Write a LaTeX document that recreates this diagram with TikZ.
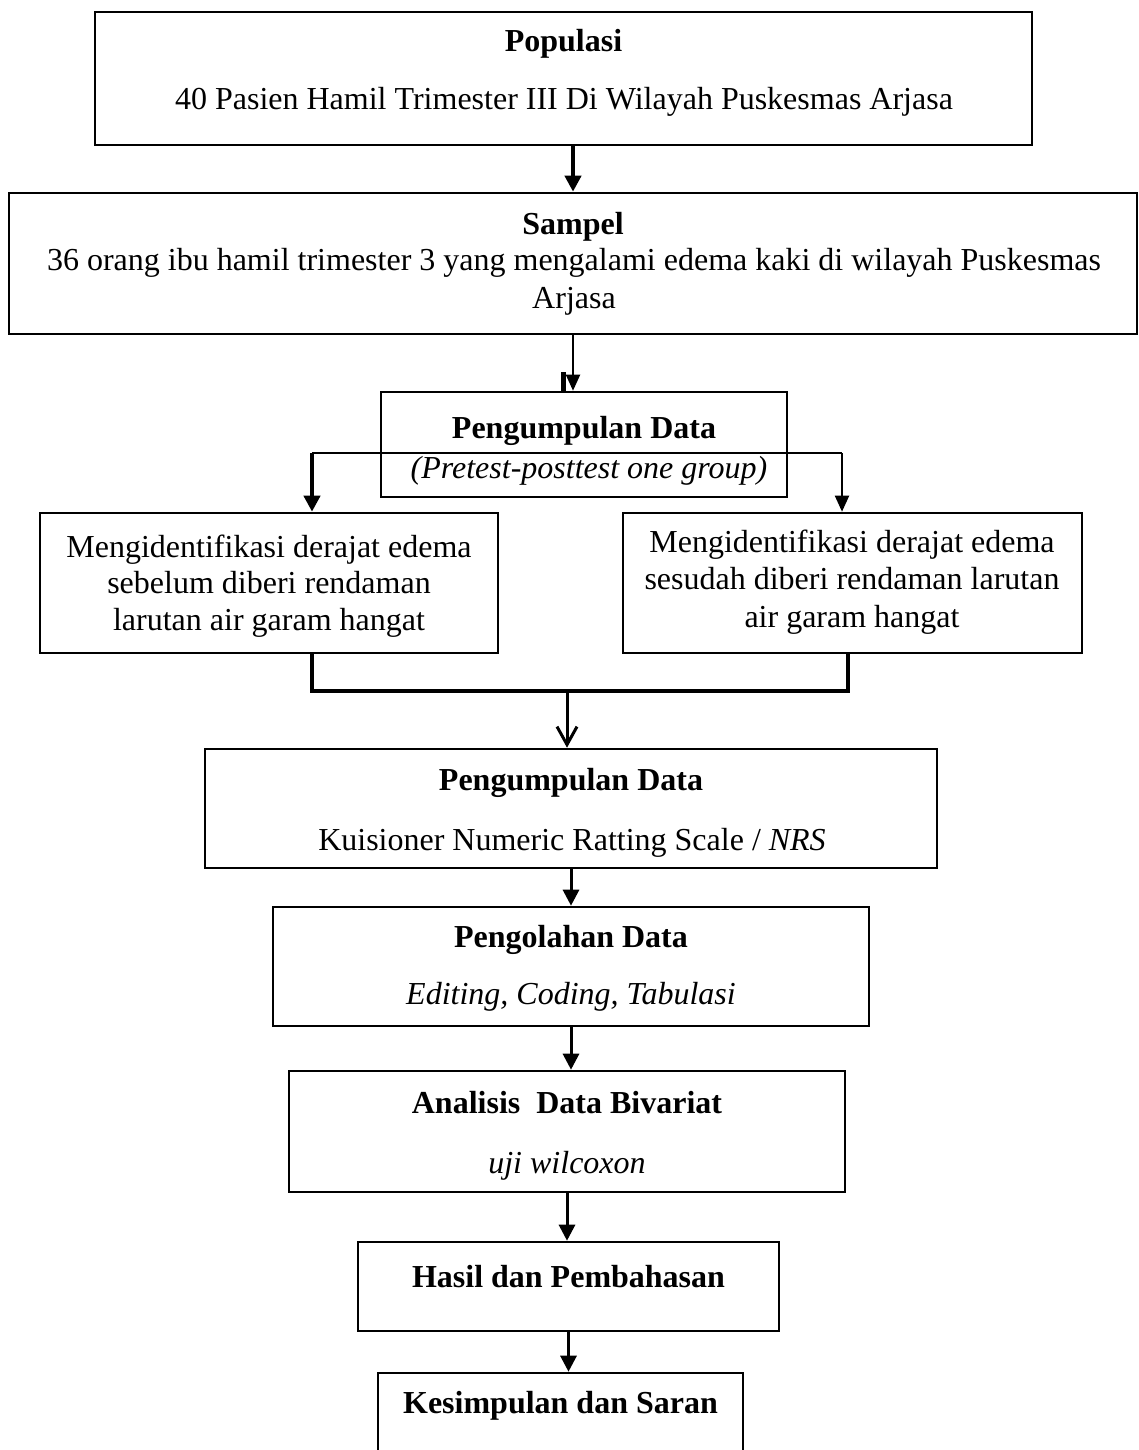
\documentclass[tikz,border=0pt]{standalone}
\usepackage{fontspec}
\setmainfont{Liberation Serif}
\usetikzlibrary{arrows.meta}

\tikzset{
  kotak/.style={draw, line width=1.3pt, rectangle, inner sep=0pt},
  teks/.style={anchor=base, inner sep=0pt, font=\fontsize{16}{19}\selectfont},
  panah/.style={line width=1.5pt, -{Triangle[length=8pt,width=8pt]}},
  panahtipis/.style={line width=1pt, -{Triangle[length=8pt,width=7pt]}},
  panahtebal/.style={line width=2pt, -{Triangle[length=8pt,width=8pt]}},
}

\begin{document}
\begin{tikzpicture}[x=0.5pt,y=-0.5pt]
\useasboundingbox (0,0) rectangle (1139,1450);
\clip (0,0) rectangle (1139,1450);

\node[kotak, minimum width=468.5pt, minimum height=66.5pt] (pop) at (563.5,78.5) {};
\node[teks] (popJudul) at (563.5,52) {\textbf{Populasi}};
\node[teks] (popIsi) at (564,110) {40 Pasien Hamil Trimester III Di Wilayah Puskesmas Arjasa};

\node[kotak, minimum width=564pt, minimum height=70.5pt] (sampel) at (573,263.5) {};
\node[teks] (sampelJudul) at (573,234) {\textbf{Sampel}};
\node[teks] (sampelIsi1) at (574,270) {36 orang ibu hamil trimester 3 yang mengalami edema kaki di wilayah Puskesmas};
\node[teks] (sampelIsi2) at (574,308) {Arjasa};

\node[kotak, minimum width=203pt, minimum height=52.5pt] (kumpul) at (584,444.5) {};
\node[teks] (kumpulJudul) at (584,438) {\textbf{Pengumpulan Data}};
\node[teks] (kumpulIsi) at (589,478) {\textit{(Pretest-posttest one group)}};

\node[kotak, minimum width=229pt, minimum height=70pt] (sebelum) at (269,583) {};
\node[teks] (sebelum1) at (269,557) {Mengidentifikasi derajat edema};
\node[teks] (sebelum2) at (269,593) {sebelum diberi rendaman};
\node[teks] (sebelum3) at (269,630) {larutan air garam hangat};

\node[kotak, minimum width=229.5pt, minimum height=70pt] (sesudah) at (852.5,583) {};
\node[teks] (sesudah1) at (852,552) {Mengidentifikasi derajat edema};
\node[teks] (sesudah2) at (852,589) {sesudah diberi rendaman larutan};
\node[teks] (sesudah3) at (852,627) {air garam hangat};

\node[kotak, minimum width=366pt, minimum height=59.5pt] (kuesioner) at (571,808.5) {};
\node[teks] (kuesionerJudul) at (571,790) {\textbf{Pengumpulan Data}};
\node[teks] (kuesionerIsi) at (572,850) {Kuisioner Numeric Ratting Scale / \textit{NRS}};

\node[kotak, minimum width=298pt, minimum height=59.5pt] (olah) at (571,966.5) {};
\node[teks] (olahJudul) at (571,947) {\textbf{Pengolahan Data}};
\node[teks] (olahIsi) at (571,1004) {\textit{Editing, Coding, Tabulasi}};

\node[kotak, minimum width=278pt, minimum height=60.5pt] (analisis) at (567,1131.5) {};
\node[teks] (analisisJudul) at (567,1113) {\textbf{Analisis\ \ Data Bivariat}};
\node[teks] (analisisIsi) at (567,1173) {\textit{uji wilcoxon}};

\node[kotak, minimum width=210.5pt, minimum height=44.5pt] (hasil) at (568.5,1286.5) {};
\node[teks] (hasilJudul) at (568.5,1287) {\textbf{Hasil dan Pembahasan}};

\node[kotak, minimum width=182.5pt, minimum height=48.5pt] (simpul) at (560.5,1421.5) {};
\node[teks] (simpulJudul) at (560.5,1413) {\textbf{Kesimpulan dan Saran}};

\draw[panahtebal] (pop.south -| sampel.north) -- (sampel.north);
\draw[panahtipis] (sampel.south) -- (sampel.south |- kumpul.north);
\coordinate (tonjol) at (563,392);
\draw[line width=2.5pt] (tonjol) -- ++(0,-20);

\coordinate (cabKiri) at (312,453);
\coordinate (cabKanan) at (842,453);
\draw[line width=1.3pt] (cabKiri) -- (cabKanan);
\draw[panahtebal] (cabKiri) -- (cabKiri |- sebelum.north);
\draw[panahtipis] (cabKanan) -- (cabKanan |- sesudah.north);

\coordinate (gabKiri) at (312,691);
\coordinate (gabKanan) at (848,691);
\coordinate (gabTengah) at (567,691);
\draw[line width=2pt] (gabKiri |- sebelum.south) -- (gabKiri) -- (gabKanan) -- (gabKanan |- sesudah.south);
\draw[line width=1.5pt, -{Straight Barb[length=9pt,width=10pt]}] (gabTengah) -- (gabTengah |- kuesioner.north);

\draw[panah] (kuesioner.south) -- (olah.north);
\draw[panah] (olah.south) -- (olah.south |- analisis.north);
\draw[panah] (analisis.south) -- (analisis.south |- hasil.north);
\draw[panah] (hasil.south) -- (hasil.south |- simpul.north);
\end{tikzpicture}
\end{document}
